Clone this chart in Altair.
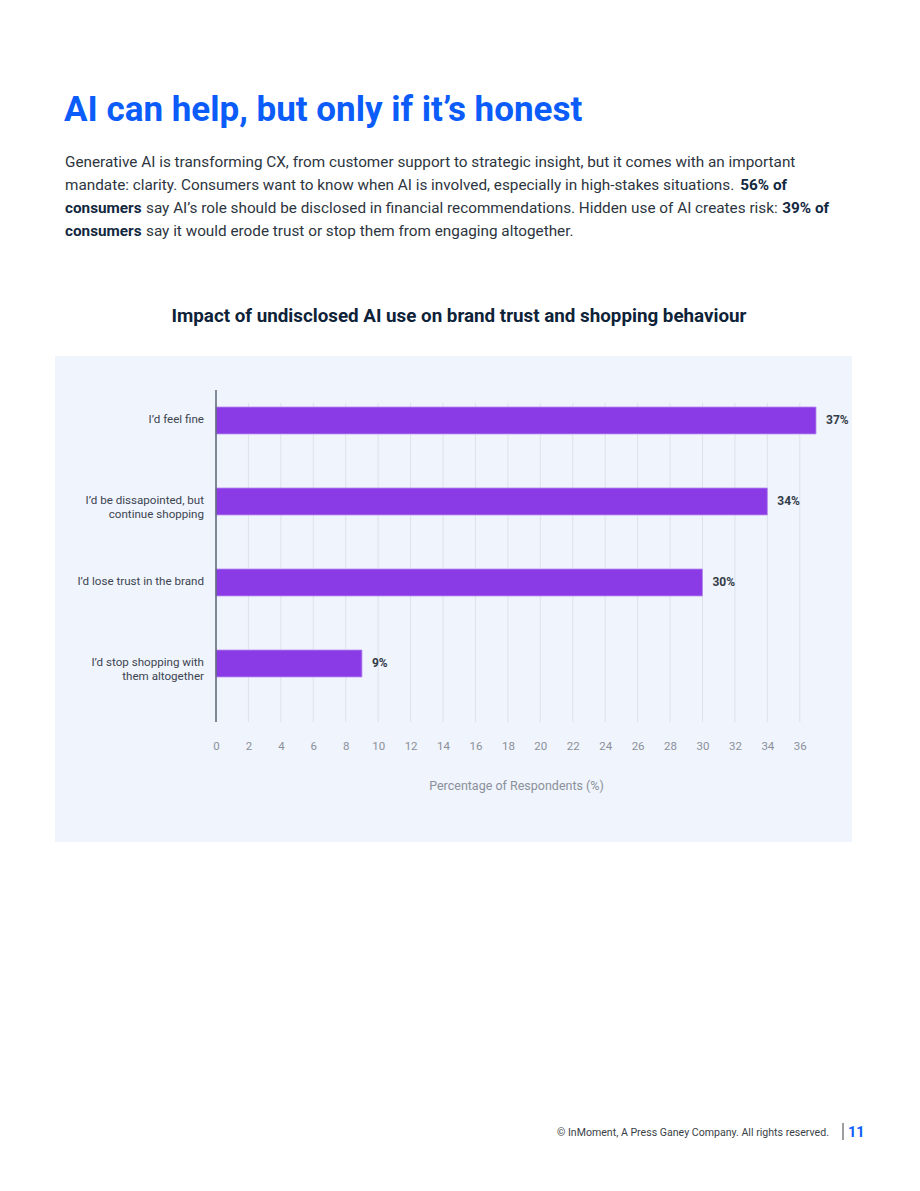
import altair as alt
import pandas as pd

# Survey responses
categories = [
    "I’d feel fine",
    "I’d be dissapointed, but\ncontinue shopping",
    "I’d lose trust in the brand",
    "I’d stop shopping with\nthem altogether",
]
values = [37, 34, 30, 9]
tick_values = list(range(0, 37, 2))

# Page text
page_title = "AI can help, but only if it’s honest"
chart_title = "Impact of undisclosed AI use on brand trust and shopping behaviour"
x_title = "Percentage of Respondents (%)"
footer = "© InMoment, A Press Ganey Company. All rights reserved."
page_number = "11"

FONT = "Roboto"
W, H = 600, 332          # plot area
LEFT, TOP = 216, 390     # plot origin on the page

df = pd.DataFrame({
    "category": categories,
    "value": values,
    "label": [f"{v}%" for v in values],
})
grid_df = pd.DataFrame({"value": tick_values})

y_scale = alt.Scale(domain=categories, paddingInner=0.667, paddingOuter=0.383, align=0.274)
x_scale = alt.Scale(domain=[0, 37], nice=False)
x_axis = alt.Axis(
    values=tick_values, grid=False, domain=False, ticks=False, zindex=2, labelFlush=False,
    labelColor="#8b9099", labelFontSize=11.5, labelFont=FONT, labelPadding=18,
    title=x_title, titleColor="#8b9099", titleFontSize=12.5, titleFont=FONT,
    titleFontWeight="normal", titlePadding=28,
)
x_enc = alt.X("value:Q", scale=x_scale, axis=x_axis)

base = alt.Chart(df)


def txt(text, x, y, size, color, weight="normal", align="left", baseline="alphabetic"):
    return alt.Chart(pd.DataFrame({"t": [text]})).mark_text(
        font=FONT, fontSize=size, color=color, fontWeight=weight,
        align=align, baseline=baseline,
    ).encode(x=alt.value(x - LEFT), y=alt.value(y - TOP), text="t:N")


# light panel behind the chart
panel = alt.Chart(pd.DataFrame({"a": [0]})).mark_rect(color="#eff4fd").encode(
    x=alt.value(55 - LEFT), x2=alt.value(852 - LEFT),
    y=alt.value(356 - TOP), y2=alt.value(842 - TOP),
)

grid = alt.Chart(grid_df).mark_rule(color="#dde2ea", strokeWidth=1).encode(
    x=x_enc, y=alt.value(13), y2=alt.value(H),
)

bars = base.mark_bar(color="#8a3be5", stroke="#b78cf0", strokeWidth=0.8).encode(
    x=x_enc,
    y=alt.Y("category:N", scale=y_scale, axis=None),
)

value_labels = base.mark_text(
    font=FONT, fontSize=12, fontWeight="bold", color="#333c48", align="left", dx=10,
).encode(
    x=x_enc,
    y=alt.Y("category:N", scale=y_scale, axis=None),
    text="label:N",
)

cat_labels = base.mark_text(
    font=FONT, fontSize=11.6, color="#3d4450", align="right", lineBreak="\n", lineHeight=14,
).encode(
    x=alt.value(-12),
    y=alt.Y("category:N", scale=y_scale, axis=None),
    text="category:N",
)

axis_line = alt.Chart(pd.DataFrame({"a": [0]})).mark_rule(color="#5b6776", strokeWidth=1.5).encode(
    x=alt.value(0), y=alt.value(0), y2=alt.value(H),
)

body_color = "#2d3540"
bold_color = "#12283f"
body_size = 15.3
texts = [
    txt(page_title, 64, 121, 35, "#0b5cf8", weight="bold"),
    txt("Generative AI is transforming CX, from customer support to strategic insight, but it comes with an important",
        65, 167, body_size, body_color),
    txt("mandate: clarity. Consumers want to know when AI is involved, especially in high-stakes situations.",
        65, 190, body_size, body_color),
    txt("56% of", 787, 190, body_size, bold_color, weight="bold", align="right"),
    txt("consumers", 65, 213, body_size, bold_color, weight="bold"),
    txt("say AI’s role should be disclosed in financial recommendations. Hidden use of AI creates risk:",
        146, 213, body_size, body_color),
    txt("39% of", 829, 213, body_size, bold_color, weight="bold", align="right"),
    txt("consumers", 65, 236, body_size, bold_color, weight="bold"),
    txt("say it would erode trust or stop them from engaging altogether.",
        146, 236, body_size, body_color),
    txt(chart_title, 459, 322, 18.8, "#0e2238", weight="bold", align="center"),
    txt(footer, 829, 1136, 10.6, "#3a3f47", align="right"),
    txt(page_number, 848, 1137, 14.5, "#0b5cf8", weight="bold"),
]

footer_rule = alt.Chart(pd.DataFrame({"a": [0]})).mark_rule(color="#3a3f47", strokeWidth=1).encode(
    x=alt.value(843 - LEFT), y=alt.value(1123 - TOP), y2=alt.value(1140 - TOP),
)

chart = alt.layer(
    panel, grid, bars, value_labels, cat_labels, axis_line, footer_rule, *texts,
).properties(
    width=W, height=H,
    padding={"left": LEFT, "top": TOP, "right": 920 - LEFT - W, "bottom": 1191 - TOP - H},
    autosize=alt.AutoSizeParams(type="none"),
    background="white",
).configure_view(stroke=None)

chart.save("out.html", embed_options={"renderer": "svg", "actions": False})
